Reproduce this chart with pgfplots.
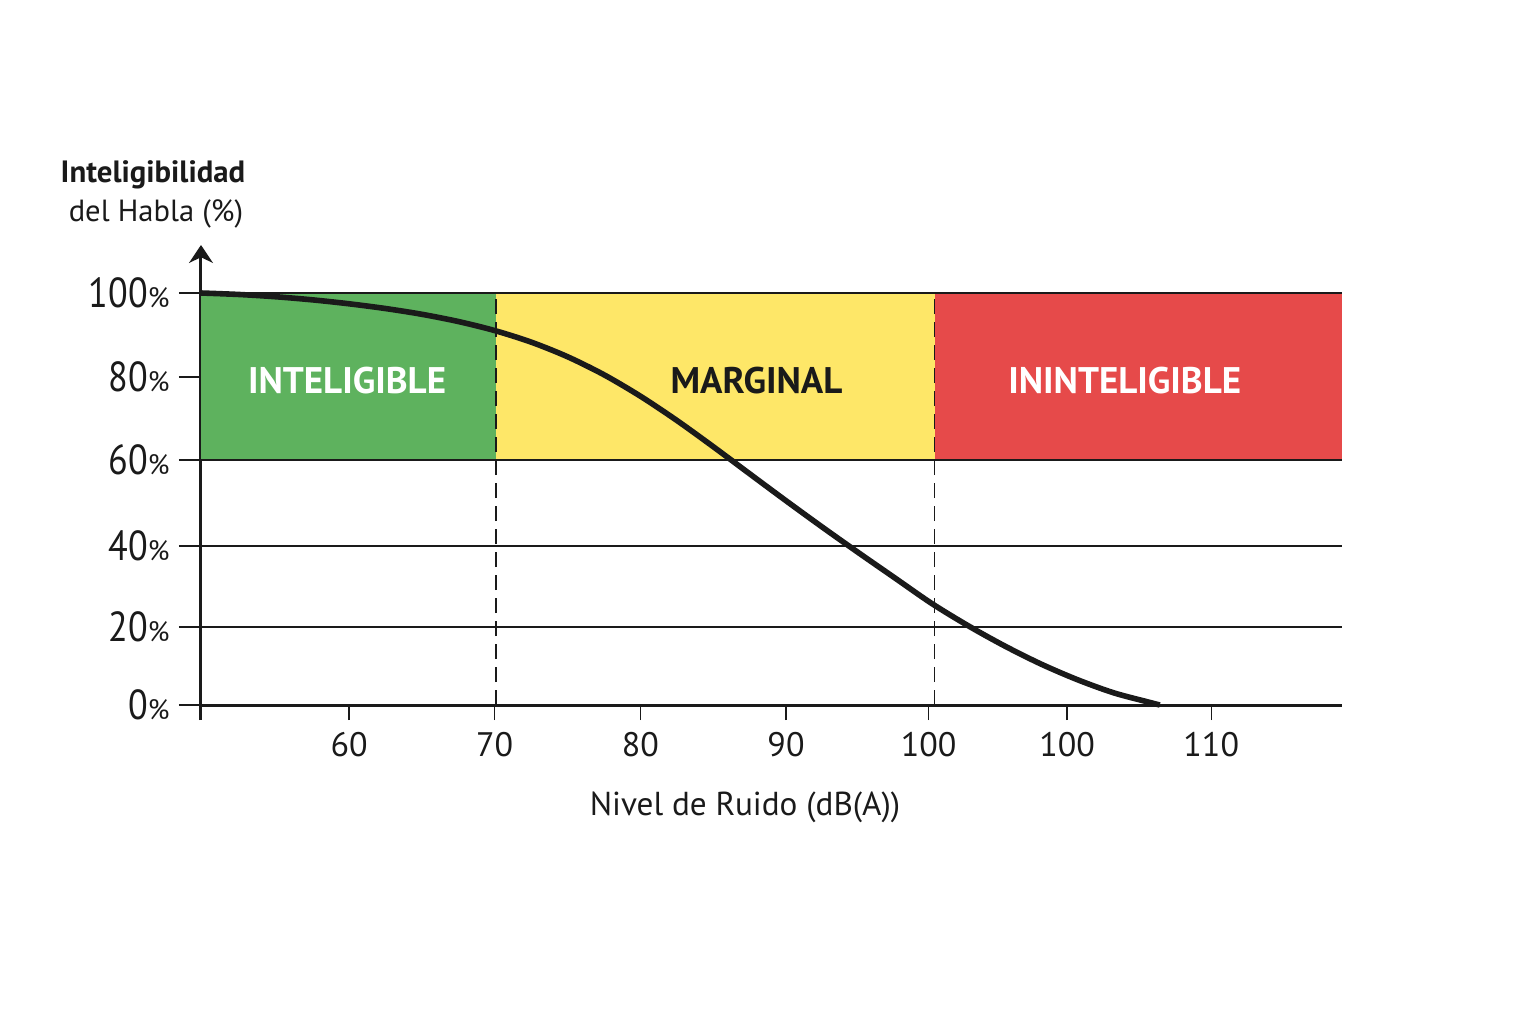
\documentclass[border=0pt]{standalone}
\usepackage{fontspec}
\setmainfont{PT Sans}
\usepackage{graphicx}
\usepackage{pgfplots}
\pgfplotsset{compat=1.18}
\usetikzlibrary{arrows.meta}

\definecolor{zgreen}{HTML}{5EB25E}
\definecolor{zyellow}{HTML}{FEE768}
\definecolor{zred}{HTML}{E64A4A}
\definecolor{ink}{HTML}{1A1A1A}

% tick label: big narrow digits, smaller percent sign
\newcommand{\yl}[1]{{\fontsize{21}{21}\selectfont\scalebox{0.86}[1]{#1}}{\fontsize{14}{14}\selectfont\%}}

\begin{document}
\begin{tikzpicture}
\useasboundingbox (-100.5pt,-159.5pt) rectangle (667.5pt,352.5pt);
\begin{axis}[
  scale only axis,
  width=570.5pt, height=230pt,
  at={(0,0)}, anchor=south west,
  xmin=49.83, xmax=128.18,
  ymin=0, ymax=111.65,
  axis x line*=bottom, axis y line*=left,
  x axis line style={-, line width=1.5pt, draw=ink},
  y axis line style={-{Stealth[length=9pt,width=12pt]}, line width=1.5pt, draw=ink, shorten <=-7.5pt},
  xtick={60,70,80,90,99.8,109.3,119.2},
  xticklabels={60,70,80,90,100,100,110},
  ytick={0,18.9,38.6,59.5,79.6,100},
  yticklabels={\yl{0},\yl{20},\yl{40},\yl{60},\yl{80},\yl{100}},
  tick align=outside,
  xtick style={/pgfplots/major tick length=7.5pt, line width=0.7pt, draw=ink},
  ytick style={/pgfplots/major tick length=11pt, line width=0.7pt, draw=ink},
  x tick label style={font=\fontsize{17}{17}\selectfont, text=ink, yshift=-6pt},
  y tick label style={text=ink, xshift=-8pt},
  clip=false,
]
% zones
\addplot[draw=none, fill=zgreen] coordinates {(49.83,59.5) (70.1,59.5) (70.1,100) (49.83,100)} -- cycle;
\addplot[draw=none, fill=zyellow] coordinates {(70.1,59.5) (100.2,59.5) (100.2,100) (70.1,100)} -- cycle;
\addplot[draw=none, fill=zred] coordinates {(100.2,59.5) (128.18,59.5) (128.18,100) (100.2,100)} -- cycle;

% horizontal lines
\addplot[ink, line width=0.8pt] coordinates {(49.83,100) (128.18,100)};
\addplot[ink, line width=0.8pt] coordinates {(49.83,59.5) (128.18,59.5)};
\addplot[ink, line width=0.7pt] coordinates {(49.83,38.6) (128.18,38.6)};
\addplot[ink, line width=0.7pt] coordinates {(49.83,18.9) (128.18,18.9)};

% zone borders
\addplot[ink, line width=0.7pt, dash pattern=on 7.5pt off 4pt] coordinates {(70.1,0) (70.1,100)};
\addplot[ink, line width=0.7pt, dash pattern=on 7.5pt off 4pt] coordinates {(100.2,0) (100.2,100)};

% intelligibility curve
\addplot[ink, line width=2.8pt, smooth] coordinates {
  (49.83,100) (52.5,99.63) (55,99.08) (57.5,98.33) (60,97.38)
  (62.5,96.23) (65,94.83) (67.5,93.08) (70,90.88) (72.5,88.08)
  (75,84.53) (77.5,80.16) (80,74.96) (82.5,69.08) (85,62.71)
  (87.5,56.13) (90,49.58) (92.5,43.16) (95,36.91) (97.5,30.78)
  (100,24.66) (102.5,19.26) (105,14.36) (107.5,9.96) (110,6.16)
  (112.5,2.96) (115,0.61) (115.67,0)
};

\node[anchor=base, text=white, font=\fontsize{18.5}{18.5}\selectfont\bfseries] at (axis cs:59.86,75.7) {INTELIGIBLE};
\node[anchor=base, text=ink, font=\fontsize{18.5}{18.5}\selectfont\bfseries] at (axis cs:87.97,75.7) {MARGINAL};
\node[anchor=base, text=white, font=\fontsize{18.5}{18.5}\selectfont\bfseries] at (axis cs:113.26,75.7) {ININTELIGIBLE};
\end{axis}

\node[anchor=base, text=ink, font=\fontsize{15.4}{15.4}\selectfont\bfseries] at (-24pt,261pt) {Inteligibilidad};
\node[anchor=base, text=ink, font=\fontsize{15.3}{15.3}\selectfont] at (-22.5pt,241.5pt) {del Habla (\%)};
\node[anchor=base, text=ink, font=\fontsize{16.6}{16.6}\selectfont] at (272pt,-55pt) {Nivel de Ruido (dB(A))};
\end{tikzpicture}
\end{document}
